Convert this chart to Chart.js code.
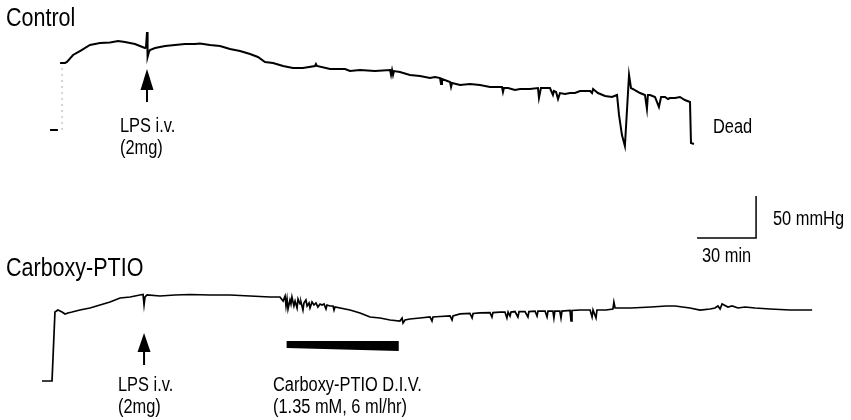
<!DOCTYPE html>
<html>
<head>
<meta charset="utf-8">
<script src="https://cdn.jsdelivr.net/npm/chart.js@4.4.1/dist/chart.umd.min.js"></script>
<style>
  html, body { margin: 0; padding: 0; background: #fff; }
  canvas { display: block; }
</style>
</head>
<body>
<canvas id="bpChart" width="851" height="420"></canvas>
<script>
// arterial pressure traces, time in min relative to LPS i.v., pressure in mmHg
const controlTime = [-44.2,-41.7,-40.7,-37.6,-34.1,-29.0,-23.9,-18.8,-14.7,-11.2,-6.1,-3.6,-1.0,-0.5,0,0.3,1.0,1.5,4.1,9.2,14.2,19.3,24.4,26.9,32.0,37.1,42.2,47.3,52.4,56.4,60.0,64.1,69.2,74.2,79.3,85.4,85.9,86.4,93.1,100.7,103.2,108.3,115.9,123.6,124.1,124.6,125.1,125.6,128.6,133.7,138.8,143.9,146.4,149.0,149.5,150.0,154.1,154.6,155.1,159.2,164.2,169.3,174.4,179.5,180.5,181.0,181.5,183.6,187.1,189.7,194.7,198.8,199.3,200.3,204.9,206.4,206.9,208.0,209.0,210.0,212.5,215.1,217.6,220.2,225.3,226.3,226.8,229.3,232.9,236.4,239.0,240.0,241.5,243.0,245.1,246.1,248.1,250.7,253.2,254.2,254.7,255.8,258.3,260.3,261.4,263.4,264.9,265.9,268.5,271.0,273.5,276.1,276.6,278.1];
const controlPressure = [79.8,79.8,81.0,89.3,94.0,101.2,103.6,104.2,106.0,104.8,102.4,100.0,97.6,98.8,116.7,86.9,92.9,95.2,97.6,100.0,101.2,102.4,102.4,103.0,101.2,100.0,96.4,94.0,90.5,86.9,81.0,79.8,76.2,73.8,73.8,76.2,78.6,76.2,72.6,72.6,70.2,71.4,70.2,71.4,65.5,71.4,65.5,70.2,69.0,65.5,64.3,61.9,63.1,61.9,54.8,60.7,57.1,51.2,56.0,53.6,54.8,53.6,51.2,51.2,51.2,45.2,50.0,50.0,47.6,48.8,48.8,50.0,38.1,50.0,50.0,41.7,46.4,45.2,36.9,44.0,42.9,44.0,44.0,46.4,46.4,44.0,48.8,44.0,40.5,39.3,41.7,17.9,-6.0,-19.0,65.5,50.0,47.6,44.0,41.7,25.0,41.7,41.7,39.3,27.4,39.3,39.3,36.9,38.1,38.1,39.3,35.7,33.3,-15.5,-16.7];

const ptioTime = [-53.4,-48.3,-46.8,-45.3,-44.2,-43.2,-41.7,-40.2,-38.1,-34.1,-29.0,-23.9,-18.8,-13.7,-8.6,-3.6,-2.0,-1.5,-1.0,0,6.6,14.2,21.9,32.0,42.2,52.4,62.5,67.6,69.2,70.2,70.7,71.2,71.7,72.7,73.2,73.7,74.7,75.3,76.3,76.8,77.8,78.3,79.3,79.8,80.8,81.4,82.4,82.9,83.9,84.9,85.9,86.9,88.0,89.0,90.0,91.0,91.5,93.1,94.6,95.1,95.6,103.2,108.3,113.4,118.5,123.6,128.6,129.7,130.2,131.2,133.7,138.8,143.9,144.9,145.4,149.0,154.1,155.1,155.6,159.2,164.2,165.3,165.8,169.3,174.4,175.4,175.9,179.5,182.0,183.0,183.6,184.6,185.1,187.1,188.6,189.2,192.2,193.7,194.2,197.3,198.3,198.8,202.4,203.4,203.9,206.4,206.9,207.4,209.9,210.5,211.0,215.1,215.6,216.1,220.2,225.3,226.3,226.8,228.3,228.8,233.4,236.9,237.4,238.0,246.1,256.3,263.9,268.5,276.1,281.2,286.3,288.8,290.3,291.4,292.4,295.4,297.5,300.5,304.1,309.2,316.8,327.0,338.2];
const ptioPressure = [0,0,82.1,84.5,83.3,82.1,79.8,81.0,82.1,84.5,86.9,90.5,94.0,98.8,100.0,102.4,103.0,90.5,100.0,102.4,101.2,102.4,103.0,102.4,102.4,101.2,100.0,100.0,95.2,101.2,89.3,97.6,85.7,96.4,91.7,100.0,89.3,95.2,86.9,97.6,91.7,94.0,84.5,92.9,96.4,89.3,92.9,86.9,94.0,90.5,92.9,88.1,91.7,90.5,91.7,85.7,90.5,89.3,89.3,84.5,88.1,84.5,81.0,76.2,75.0,72.6,71.4,75.0,69.0,72.6,73.8,75.0,76.2,71.4,76.2,76.8,77.4,72.6,77.4,79.8,80.4,75.0,80.4,81.0,81.5,76.2,81.5,82.1,82.1,75.0,82.1,77.4,82.1,82.7,76.2,82.7,82.7,76.2,82.7,83.3,77.4,83.3,83.3,76.2,83.3,83.3,75.0,83.3,83.3,75.0,83.3,83.9,71.4,83.9,84.5,84.5,76.2,84.5,75.0,84.5,84.5,85.7,94.0,86.9,86.9,88.1,89.3,89.3,86.9,84.5,85.7,86.9,89.3,85.7,91.7,88.1,89.3,86.9,88.1,86.9,85.7,84.5,84.5];

const controlZeroTime = [-49.3, -45.3];
const controlStartTime = [-43.2, -43.2];
const controlStartPressure = [0, 79.8];
const lpsTime = [0, -1.5];          // control, carboxy-PTIO
const infusionTime = [71, 128];     // carboxy-PTIO D.I.V. start / end
const scaleBarValues = [30, 50];    // min, mmHg

// layout: 59 px per 30 min, 42 px per 50 mmHg
const PX_PER_MIN = 59 / 30;
const PX_PER_MMHG = 42 / 50;
const X_ORIGIN = 147;          // px where t = 0
const CTL_ZERO = 130;          // px where control 0 mmHg sits
const PTIO_ZERO = 381;
const W = 851, H = 420;
const SCALE_ORIGIN = [279.7, -128.6];

const zip = (xs, ys) => xs.map((x, i) => ({ x: x, y: ys[i] }));

// narrow Helvetica look: Liberation Sans squeezed horizontally
function drawText(ctx, s, x, y, size, sx) {
  ctx.save();
  ctx.translate(x, y);
  ctx.scale(sx, 1);
  ctx.font = size + 'px "Liberation Sans", Arial, sans-serif';
  ctx.fillText(s, 0, 0);
  ctx.restore();
}

const labels = {
  id: 'labels',
  afterDatasetsDraw(chart) {
    const ctx = chart.ctx;
    const xs = chart.scales.x;
    ctx.save();
    ctx.fillStyle = '#000';
    ctx.strokeStyle = '#000';

    // LPS arrows
    const arrows = [[lpsTime[0], 69, 90, 102], [lpsTime[1], 333, 352, 365]];
    arrows.forEach(a => {
      const x = xs.getPixelForValue(a[0]);
      ctx.beginPath();
      ctx.moveTo(x, a[1]);
      ctx.lineTo(x - 6.5, a[2]);
      ctx.lineTo(x + 6.5, a[2]);
      ctx.closePath();
      ctx.fill();
      ctx.lineWidth = 2;
      ctx.beginPath();
      ctx.moveTo(x, a[2]);
      ctx.lineTo(x, a[3]);
      ctx.stroke();
    });

    // infusion bar
    const b0 = xs.getPixelForValue(infusionTime[0]);
    const b1 = xs.getPixelForValue(infusionTime[1]);
    ctx.beginPath();
    ctx.moveTo(b0, 341);
    ctx.lineTo(b1, 341);
    ctx.lineTo(b1, 351);
    ctx.lineTo(b0, 348);
    ctx.closePath();
    ctx.fill();

    drawText(ctx, 'Control', 6, 26, 25, 0.86);
    drawText(ctx, 'Carboxy-PTIO', 6, 276, 25, 0.86);

    drawText(ctx, 'LPS i.v.', 120, 132, 20, 0.82);
    drawText(ctx, '(2mg)', 120, 154, 20, 0.82);
    drawText(ctx, 'LPS i.v.', 118, 391, 20, 0.82);
    drawText(ctx, '(2mg)', 118, 413, 20, 0.82);
    drawText(ctx, 'Carboxy-PTIO D.I.V.', 273, 391, 20, 0.82);
    drawText(ctx, '(1.35 mM, 6 ml/hr)', 273, 413, 20, 0.82);
    drawText(ctx, 'Dead', 713, 133, 20, 0.82);
    drawText(ctx, '50 mmHg', 773, 225, 20, 0.82);
    drawText(ctx, '30 min', 702, 262, 20, 0.82);
    ctx.restore();
  }
};

new Chart(document.getElementById('bpChart').getContext('2d'), {
  type: 'scatter',
  data: {
    datasets: [
      {
        label: 'Control',
        data: zip(controlTime, controlPressure),
        yAxisID: 'yCtl',
        showLine: true,
        borderColor: '#000',
        borderWidth: 2,
        pointRadius: 0,
        tension: 0
      },
      {
        label: 'Control zero',
        data: zip(controlZeroTime, [0, 0]),
        yAxisID: 'yCtl',
        showLine: true,
        borderColor: '#000',
        borderWidth: 2,
        pointRadius: 0
      },
      {
        label: 'Control start',
        data: zip(controlStartTime, controlStartPressure),
        yAxisID: 'yCtl',
        showLine: true,
        borderColor: '#aaa',
        borderWidth: 1,
        borderDash: [2, 4],
        pointRadius: 0
      },
      {
        label: 'Carboxy-PTIO',
        data: zip(ptioTime, ptioPressure),
        yAxisID: 'yPtio',
        showLine: true,
        borderColor: '#000',
        borderWidth: 1.7,
        pointRadius: 0,
        tension: 0
      },
      {
        label: 'Scale',
        data: [
          { x: SCALE_ORIGIN[0], y: SCALE_ORIGIN[1] },
          { x: SCALE_ORIGIN[0] + scaleBarValues[0], y: SCALE_ORIGIN[1] },
          { x: SCALE_ORIGIN[0] + scaleBarValues[0], y: SCALE_ORIGIN[1] + scaleBarValues[1] }
        ],
        yAxisID: 'yCtl',
        showLine: true,
        borderColor: '#000',
        borderWidth: 1.5,
        pointRadius: 0
      }
    ]
  },
  options: {
    responsive: false,
    animation: false,
    layout: { padding: 0 },
    plugins: {
      legend: { display: false },
      tooltip: { enabled: false }
    },
    scales: {
      x: {
        type: 'linear',
        display: false,
        min: -X_ORIGIN / PX_PER_MIN,
        max: (W - X_ORIGIN) / PX_PER_MIN
      },
      yCtl: {
        type: 'linear',
        display: false,
        min: (CTL_ZERO - H) / PX_PER_MMHG,
        max: CTL_ZERO / PX_PER_MMHG
      },
      yPtio: {
        type: 'linear',
        display: false,
        min: (PTIO_ZERO - H) / PX_PER_MMHG,
        max: PTIO_ZERO / PX_PER_MMHG
      }
    }
  },
  plugins: [labels]
});
</script>
</body>
</html>
